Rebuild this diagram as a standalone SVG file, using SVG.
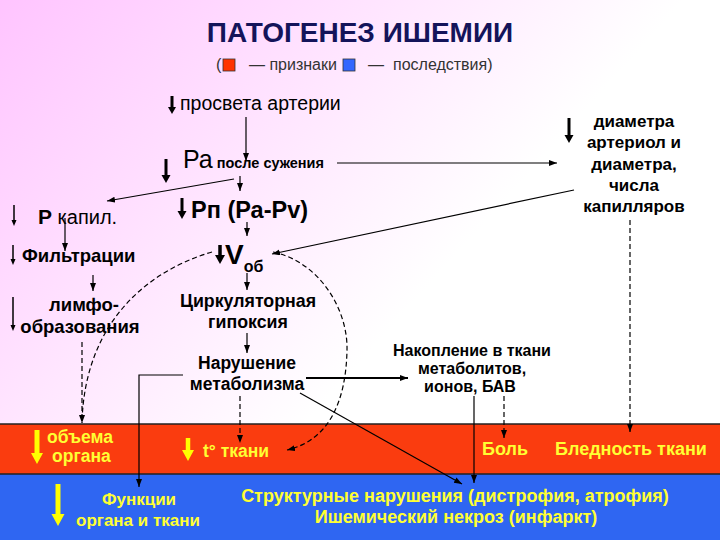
<svg xmlns="http://www.w3.org/2000/svg" width="720" height="540" viewBox="0 0 720 540">
<defs>
<linearGradient id="bg" gradientUnits="userSpaceOnUse" x1="0" y1="0" x2="380" y2="340">
<stop offset="0" stop-color="#ffc4ff"/>
<stop offset="1" stop-color="#ffffff"/>
</linearGradient>
<marker id="ah" markerUnits="userSpaceOnUse" markerWidth="9" markerHeight="7" refX="8" refY="3" orient="auto">
<path d="M0,0 L8,3 L0,6 z" fill="#000"/>
</marker>
<style>
text{font-family:"Liberation Sans",Arial,sans-serif;fill:#000}
.b{font-weight:bold}
.t17{font-size:17px}
.y{fill:#ffff33;font-weight:bold;font-size:17.5px}
.c{stroke:#000;stroke-width:1.2;fill:none;marker-end:url(#ah)}
.d{stroke:#000;stroke-width:1.2;fill:none;stroke-dasharray:5 3;marker-end:url(#ah)}
.ka{stroke:#000}
.kf{fill:#000}
.ya{stroke:#ffff00}
.yf{fill:#ffff00}
.lg{font-size:16px;fill:#333}
</style>
</defs>
<rect x="0" y="0" width="720" height="540" fill="url(#bg)"/>
<g id="bands">
<rect x="0" y="424" width="720" height="50" fill="#fa3c0f"/>
<rect x="0" y="474" width="720" height="66" fill="#2f66f2"/>
<line x1="0" y1="424" x2="720" y2="424" stroke="#222" stroke-width="1.5"/>
<line x1="0" y1="474" x2="720" y2="474" stroke="#222" stroke-width="1.5"/>
</g>
<g id="title">
<text x="360" y="42" text-anchor="middle" class="b" style="font-size:28px;fill:#14145a">ПАТОГЕНЕЗ ИШЕМИИ</text>
</g>
<g id="legend">
<text class="lg" x="216" y="70">(</text>
<rect x="223" y="59" width="12" height="12" fill="#ff3300" stroke="#333" stroke-width="0.8"/>
<text class="lg" x="249" y="70">— признаки</text>
<rect x="343" y="59" width="12" height="12" fill="#3366ff" stroke="#333" stroke-width="0.8"/>
<text class="lg" x="368" y="70">—</text>
<text class="lg" x="393" y="70">последствия)</text>
</g>
<g id="connectors">
<line class="c" x1="246" y1="117" x2="246" y2="161"/>
<line class="c" x1="337" y1="163" x2="557" y2="163"/>
<line class="c" x1="240" y1="176" x2="240" y2="191"/>
<line class="c" x1="234" y1="179" x2="107" y2="201"/>
<line class="c" x1="65" y1="218" x2="65" y2="251"/>
<line class="c" x1="93" y1="275" x2="93" y2="291"/>
<line class="c" x1="247" y1="222" x2="247" y2="236"/>
<line class="c" x1="574" y1="190" x2="272" y2="254"/>
<line class="c" x1="247" y1="273" x2="247" y2="290"/>
<line class="c" x1="247" y1="333" x2="247" y2="353"/>
<polyline class="c" points="183,375 139,375 139,487"/>
<line class="c" x1="306" y1="378" x2="408" y2="378" style="stroke-width:2"/>
<line class="c" x1="300" y1="393" x2="462" y2="484"/>
<line class="c" x1="474" y1="396" x2="474" y2="483"/>
<line class="d" x1="82" y1="342" x2="82" y2="423"/>
<path class="d" d="M212,252 C150,270 85,320 82,422" style="marker-end:none"/>
<path class="d" d="M273,252 C320,262 348,310 347,350 C346,400 330,440 287,450"/>
<line class="d" x1="240" y1="396" x2="240" y2="443"/>
<line class="d" x1="504" y1="396" x2="504" y2="438"/>
<line class="d" x1="630" y1="220" x2="630" y2="432"/>
</g>
<g id="n-prosvet">
<line class="ka" x1="172" y1="96" x2="172" y2="107" stroke-width="3"/>
<polygon class="kf" points="168,107 176,107 172,114"/>
<text x="180" y="110" style="font-size:19.5px">просвета артерии</text>
</g>
<g id="n-pa">
<line class="ka" x1="166" y1="159" x2="166" y2="175" stroke-width="3"/>
<polygon class="kf" points="161.5,175 170.5,175 166,183"/>
<text x="183" y="168"><tspan style="font-size:25px">Ра</tspan><tspan class="b" style="font-size:14.5px"> после сужения</tspan></text>
</g>
<g id="n-diam">
<line class="ka" x1="569" y1="118" x2="569" y2="135" stroke-width="3"/>
<polygon class="kf" points="564.5,135 573.5,135 569,143"/>
<text class="b t17" text-anchor="middle" x="634"><tspan x="634" y="127">диаметра</tspan><tspan x="634" y="148">артериол и</tspan><tspan x="634" y="170">диаметра,</tspan><tspan x="634" y="191">числа</tspan><tspan x="634" y="212">капилляров</tspan></text>
</g>
<g id="n-pkap">
<line class="ka" x1="14" y1="205" x2="14" y2="220" stroke-width="1.5"/>
<polygon class="kf" points="11.5,220 16.5,220 14,226"/>
<text x="38" y="224"><tspan class="b" style="font-size:21px">Р</tspan><tspan style="font-size:20px"> капил.</tspan></text>
</g>
<g id="n-filtr">
<line class="ka" x1="13" y1="245" x2="13" y2="259" stroke-width="1.5"/>
<polygon class="kf" points="10.5,259 15.5,259 13,265"/>
<text class="b" x="22" y="262" style="font-size:18.5px">Фильтрации</text>
</g>
<g id="n-limf">
<line class="ka" x1="13" y1="297" x2="13" y2="325" stroke-width="1.5"/>
<polygon class="kf" points="10.5,325 15.5,325 13,331"/>
<text class="b" text-anchor="middle" style="font-size:18.5px"><tspan x="84" y="311">лимфо-</tspan><tspan x="80" y="333">образования</tspan></text>
</g>
<g id="n-pn">
<line class="ka" x1="182" y1="198" x2="182" y2="211" stroke-width="3"/>
<polygon class="kf" points="177.5,211 186.5,211 182,219"/>
<text class="b" x="191" y="218" style="font-size:23.5px">Рп (Ра-Pv)</text>
</g>
<g id="n-vob">
<line class="ka" x1="220" y1="245" x2="220" y2="255" stroke-width="3.5"/>
<polygon class="kf" points="215,255 225,255 220,264"/>
<text class="b" x="225" y="264"><tspan style="font-size:28px">V</tspan><tspan dy="8" style="font-size:16px">об</tspan></text>
</g>
<g id="n-hypox">
<text class="b" text-anchor="middle" style="font-size:17.8px"><tspan x="248" y="307">Циркуляторная</tspan><tspan x="248" y="328">гипоксия</tspan></text>
</g>
<g id="n-metab">
<text class="b" text-anchor="middle" style="font-size:17.5px"><tspan x="247" y="369">Нарушение</tspan><tspan x="247" y="390">метаболизма</tspan></text>
</g>
<g id="n-nakop">
<text class="b" text-anchor="middle" style="font-size:16px"><tspan x="472" y="356">Накопление в ткани</tspan><tspan x="472" y="374">метаболитов,</tspan><tspan x="470" y="392">ионов, БАВ</tspan></text>
</g>
<g id="n-obem">
<line class="ya" x1="37" y1="430" x2="37" y2="453" stroke-width="5"/>
<polygon class="yf" points="31,453 43,453 37,464"/>
<text class="y"><tspan x="47" y="443">объема</tspan><tspan x="52" y="462">органа</tspan></text>
</g>
<g id="n-temp">
<line class="ya" x1="188" y1="438" x2="188" y2="450" stroke-width="4.5"/>
<polygon class="yf" points="182,450 194,450 188,461"/>
<text class="y" x="203" y="457">t° ткани</text>
</g>
<g id="n-bol">
<text class="y" x="482" y="455" style="font-size:18px">Боль</text>
</g>
<g id="n-bled">
<text class="y" x="555" y="455" style="font-size:18px">Бледность ткани</text>
</g>
<g id="n-funk">
<line class="ya" x1="58" y1="484" x2="58" y2="514" stroke-width="5"/>
<polygon class="yf" points="51.5,514 64.5,514 58,526"/>
<text class="y" text-anchor="middle" style="font-size:17px"><tspan x="139" y="505">Функции</tspan><tspan x="138" y="526">органа и ткани</tspan></text>
</g>
<g id="n-struct">
<text class="y" text-anchor="middle" style="font-size:18px"><tspan x="455" y="502">Структурные нарушения (дистрофия, атрофия)</tspan><tspan x="456" y="523">Ишемический некроз (инфаркт)</tspan></text>
</g>
</svg>
